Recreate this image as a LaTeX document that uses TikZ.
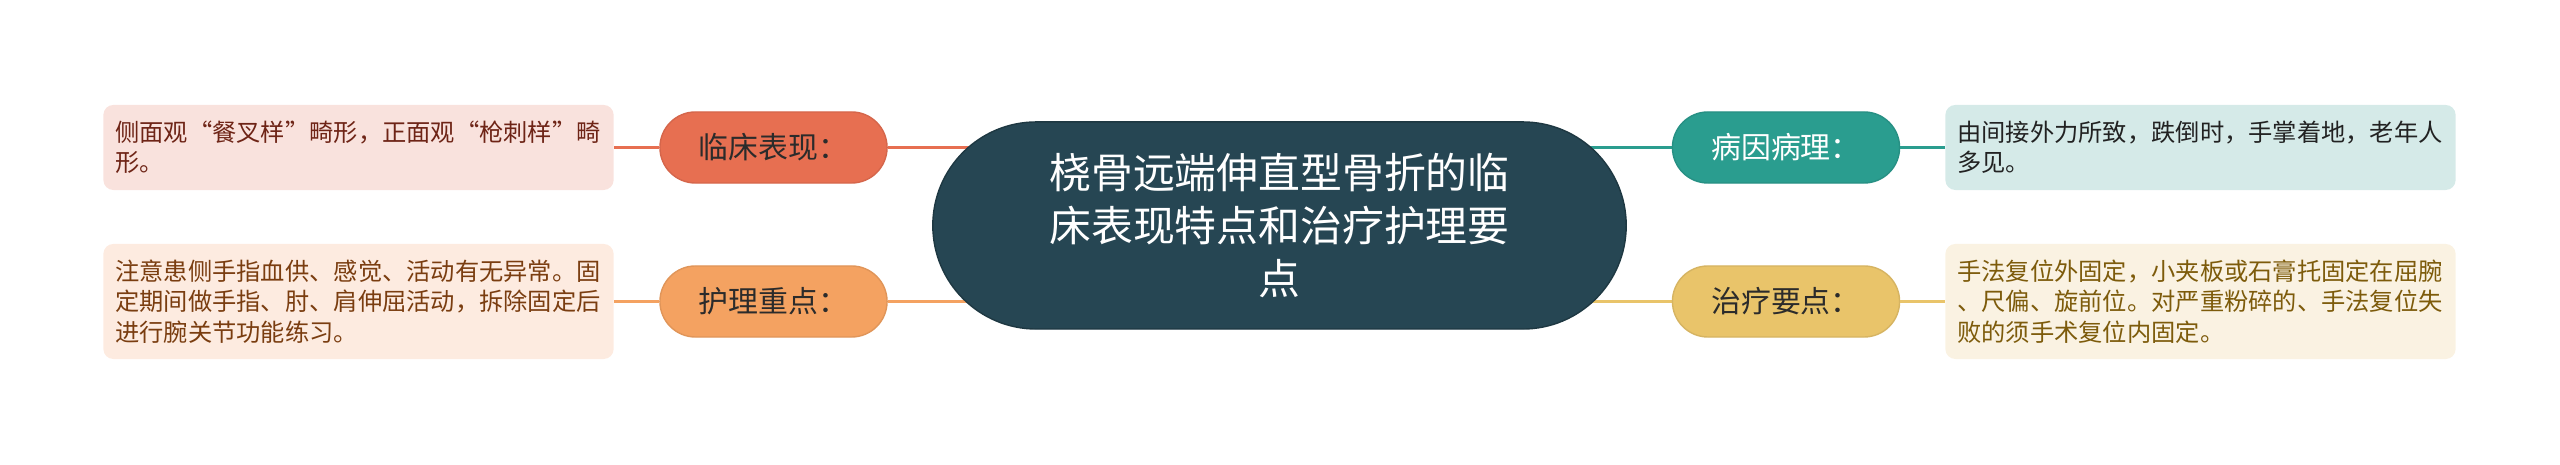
\documentclass[tikz,border=0pt]{standalone}
\usepackage{fontspec}
\setmainfont{Noto Sans CJK SC}
\usetikzlibrary{backgrounds}

\definecolor{rootfill}{HTML}{264653}
\definecolor{clinic}{HTML}{E76F51}
\definecolor{nursing}{HTML}{F4A261}
\definecolor{cause}{HTML}{2A9D8F}
\definecolor{therapy}{HTML}{E9C46A}
\definecolor{clinicleaf}{HTML}{F9E2DD}
\definecolor{nursingleaf}{HTML}{FDEBE0}
\definecolor{causeleaf}{HTML}{D5EAE8}
\definecolor{therapyleaf}{HTML}{FAF2E2}
\definecolor{clinictext}{HTML}{6E2416}
\definecolor{nursingtext}{HTML}{7A3D10}
\definecolor{causetext}{HTML}{222222}
\definecolor{therapytext}{HTML}{7D5B0B}
\definecolor{textdark}{HTML}{2B2B2B}

\begin{document}
\begin{tikzpicture}[x=0.01cm, y=-0.01cm,
	root/.style={fill=rootfill, draw=rootfill!80!black, line width=0.4pt,
		rounded corners=1.035cm, minimum width=6.93cm, minimum height=2.07cm,
		text width=4.7cm, align=center, text=white,
		font=\fontsize{11.9}{15.1}\selectfont},
	branch/.style={fill=#1, draw=#1!92!black, line width=0.4pt,
		rounded corners=0.355cm, minimum width=2.27cm, minimum height=0.71cm,
		inner sep=0pt, text=textdark, font=\fontsize{8.5}{10}\selectfont},
	leaf/.style={fill=#1, rounded corners=0.1cm, text width=4.86cm,
		inner xsep=0.12cm, inner ysep=0pt, align=left,
		font=\fontsize{6.9}{8.6}\selectfont},
	link/.style={draw=#1, line width=0.8pt}
]

\def\width{2560}
\def\height{465}
\def\lx{358.5}  % left leaves
\def\bl{773.5}  % left branches
\def\br{1786}   % right branches
\def\rx{2200.5} % right leaves
\def\ytop{147.5}
\def\ybot{301.5}

\path [use as bounding box] (0,0) rectangle (\width,\height);

% ROOT
\node [root] (root) at (1279.5,225.5)
	{桡骨远端伸直型骨折的临\\床表现特点和治疗护理要\\点};

% BRANCHES
\node [branch=clinic] (clinic) at (\bl,\ytop) {临床表现：};
\node [branch=nursing] (nursing) at (\bl,\ybot) {护理重点：};
\node [branch=cause, text=white] (cause) at (\br,\ytop) {病因病理：};
\node [branch=therapy] (therapy) at (\br,\ybot) {治疗要点：};

% LEAVES
\node [leaf=clinicleaf, text=clinictext, minimum height=0.85cm] (clinicleaf) at (\lx,\ytop)
	{侧面观“餐叉样”畸形，正面观“枪刺样”畸\\形。};
\node [leaf=nursingleaf, text=nursingtext, minimum height=1.15cm] (nursingleaf) at (\lx,\ybot)
	{注意患侧手指血供、感觉、活动有无异常。固\\定期间做手指、肘、肩伸屈活动，拆除固定后\\进行腕关节功能练习。};
\node [leaf=causeleaf, text=causetext, minimum height=0.85cm] (causeleaf) at (\rx,\ytop)
	{由间接外力所致，跌倒时，手掌着地，老年人\\多见。};
\node [leaf=therapyleaf, text=therapytext, minimum height=1.15cm] (therapyleaf) at (\rx,\ybot)
	{手法复位外固定，小夹板或石膏托固定在屈腕\\、尺偏、旋前位。对严重粉碎的、手法复位失\\败的须手术复位内固定。};

% LINKS
\begin{scope}[on background layer]
\draw [link=clinic] (clinic.east) -- (clinic.east -| root.center);
\draw [link=nursing] (nursing.east) -- (nursing.east -| root.center);
\draw [link=cause] (cause.west) -- (cause.west -| root.center);
\draw [link=therapy] (therapy.west) -- (therapy.west -| root.center);
\end{scope}
\draw [link=clinic] (clinicleaf) -- (clinic);
\draw [link=nursing] (nursingleaf) -- (nursing);
\draw [link=cause] (cause) -- (causeleaf);
\draw [link=therapy] (therapy) -- (therapyleaf);

\end{tikzpicture}
\end{document}
